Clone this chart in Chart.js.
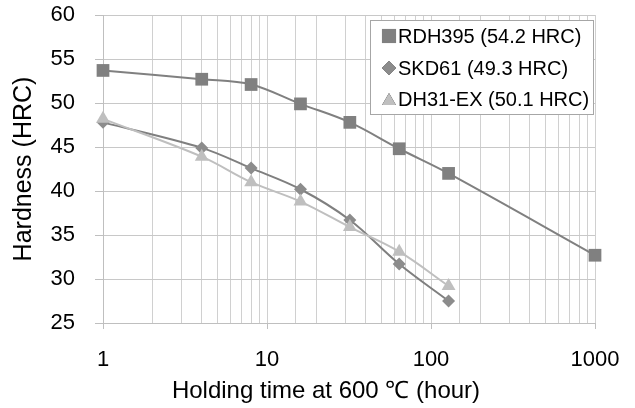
<!DOCTYPE html>
<html>
<head>
<meta charset="utf-8">
<script src="https://cdn.jsdelivr.net/npm/chart.js@4"></script>
<style>
  html, body { margin: 0; padding: 0; background: #fff; }
  #wrap { width: 635px; height: 408px; }
</style>
</head>
<body>
<div id="wrap"><canvas id="myChart" width="635" height="408"></canvas></div>
<script>
// 데이터
var hours = [1, 4, 8, 16, 32, 64, 128, 1000];
var rdh395 = [53.7, 52.7, 52.1, 49.9, 47.8, 44.8, 42.0, 32.7];
var skd61 = [47.8, 44.9, 42.6, 40.2, 36.7, 31.7, 27.5];
var dh31 = [48.2, 43.9, 41.0, 38.8, 35.9, 33.1, 29.2];
var seriesLabels = ['RDH395 (54.2 HRC)', 'SKD61 (49.3 HRC)', 'DH31-EX (50.1 HRC)'];
var xTickLabels = [1, 10, 100, 1000];
var yTicks = [25, 30, 35, 40, 45, 50, 55, 60];
var xTitle = 'Holding time at 600 ℃ (hour)';
var yTitle = 'Hardness (HRC)';

function toPoints(ys) {
    var pts = [];
    for (var i = 0; i < ys.length; i++) {
        pts.push({x: hours[i], y: ys[i]});
    }
    return pts;
}

var FONT = "'Liberation Sans', Arial, sans-serif";

// 차트 안쪽 범례 박스 + x축 제목
var insideLegend = {
    id: 'insideLegend',
    afterDraw: function(chart) {
        var ctx = chart.ctx;
        var x0 = 370, y0 = 20, w = 223, h = 94;
        ctx.save();
        ctx.fillStyle = '#ffffff';
        ctx.fillRect(x0, y0, w, h);
        ctx.strokeStyle = '#a6a6a6';
        ctx.lineWidth = 1;
        ctx.strokeRect(x0 + 0.5, y0 + 0.5, w, h);
        ctx.font = '20px ' + FONT;
        ctx.textBaseline = 'middle';
        var rows = [36, 68, 99];
        chart.data.datasets.forEach(function(ds, i) {
            var cy = rows[i];
            Chart.helpers.drawPoint(ctx, {
                pointStyle: ds.pointStyle,
                radius: ds.legendRadius,
                borderWidth: 0
            }, 389, ds.pointStyle === 'triangle' ? cy + 2 : cy);
            ctx.fillStyle = ds.pointBackgroundColor;
            ctx.fill();
            ctx.fillStyle = '#000';
            ctx.fillText(ds.label, 398, cy + 1);
        });

        // x축 제목 (원본처럼 약간 왼쪽)
        ctx.font = '24px ' + FONT;
        ctx.textAlign = 'center';
        ctx.fillText(xTitle, 326, 391);
        ctx.restore();
    }
};

var ctx = document.getElementById('myChart').getContext('2d');
var myChart = new Chart(ctx, {
    type: 'line',
    data: {
        datasets: [{
            label: seriesLabels[0],
            data: toPoints(rdh395),
            borderColor: '#808080',
            backgroundColor: '#808080',
            pointBackgroundColor: '#808080',
            pointBorderWidth: 0,
            pointStyle: 'rect',
            pointRadius: 9,
            legendRadius: 10,
            borderWidth: 2,
            tension: 0.35,
            clip: false,
            order: 3
        }, {
            label: seriesLabels[1],
            data: toPoints(skd61),
            borderColor: '#7f7f7f',
            backgroundColor: '#8c8c8c',
            pointBackgroundColor: '#8c8c8c',
            pointBorderWidth: 0,
            pointStyle: 'rectRot',
            pointRadius: 6.5,
            legendRadius: 7,
            borderWidth: 2,
            tension: 0.35,
            clip: false,
            order: 2
        }, {
            label: seriesLabels[2],
            data: toPoints(dh31),
            borderColor: '#bfbfbf',
            backgroundColor: '#bfbfbf',
            pointBackgroundColor: '#bfbfbf',
            pointBorderWidth: 0,
            pointStyle: 'triangle',
            pointRadius: 8,
            legendRadius: 8,
            borderWidth: 2,
            tension: 0.35,
            clip: false,
            order: 1
        }]
    },
    options: {
        responsive: false,
        animation: false,
        devicePixelRatio: 1,
        layout: {
            padding: {left: 0, right: 40, top: 15, bottom: 0}
        },
        plugins: {
            legend: {display: false},
            tooltip: {enabled: false}
        },
        scales: {
            x: {
                type: 'logarithmic',
                min: 1,
                max: 1000,
                afterFit: function(scale) {
                    scale.height = 85;
                    scale.paddingLeft = 0;
                    scale.paddingRight = 0;
                },
                grid: {
                    color: '#d0d0d0',
                    lineWidth: 1,
                    tickLength: 6,
                    tickColor: function(c) {
                        return xTickLabels.indexOf(c.tick && c.tick.value) >= 0 ? '#bfbfbf' : 'rgba(0,0,0,0)';
                    }
                },
                border: {color: '#bfbfbf'},
                ticks: {
                    autoSkip: false,
                    maxRotation: 0,
                    padding: 18,
                    color: '#000',
                    font: {family: FONT, size: 22},
                    callback: function(value) {
                        return xTickLabels.indexOf(value) >= 0 ? String(value) : '';
                    }
                },
                title: {display: false}
            },
            y: {
                type: 'linear',
                min: yTicks[0],
                max: yTicks[yTicks.length - 1],
                afterFit: function(scale) {
                    scale.width = 103;
                    scale.paddingTop = 0;
                    scale.paddingBottom = 0;
                },
                afterBuildTicks: function(scale) {
                    scale.ticks = yTicks.map(function(v) { return {value: v}; });
                },
                grid: {
                    color: '#c8c8c8',
                    lineWidth: 1,
                    tickLength: 8,
                    tickColor: '#bfbfbf'
                },
                border: {color: '#bfbfbf'},
                ticks: {
                    padding: 20,
                    color: '#000',
                    font: {family: FONT, size: 22}
                },
                title: {
                    display: true,
                    text: yTitle,
                    color: '#000',
                    font: {family: FONT, size: 25},
                    padding: {top: 9, bottom: 4}
                }
            }
        }
    },
    plugins: [insideLegend]
});
</script>
</body>
</html>
